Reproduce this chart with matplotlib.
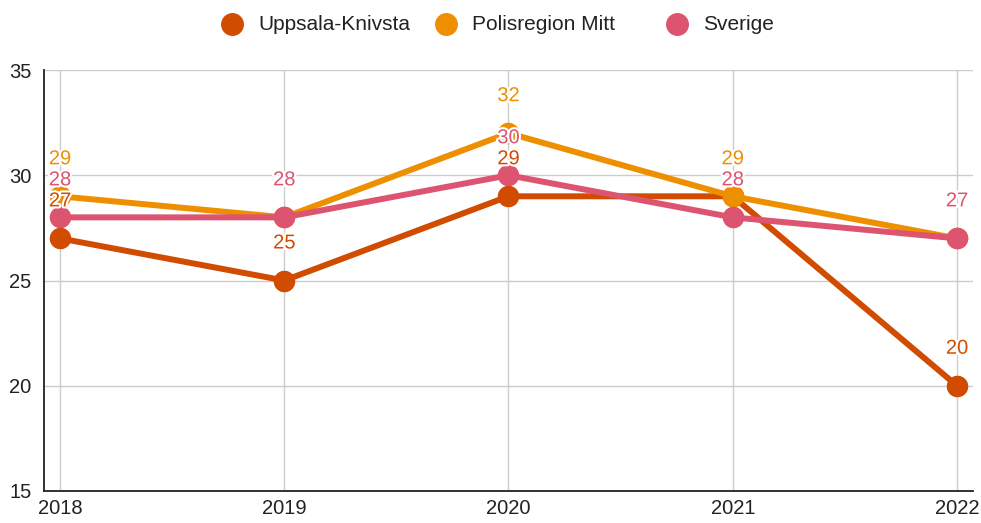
import matplotlib.pyplot as plt
import matplotlib.patheffects as pe
from matplotlib.lines import Line2D

plt.rcParams['font.family'] = ['Liberation Sans', 'DejaVu Sans']

years = [2018, 2019, 2020, 2021, 2022]
uppsala = [27, 25, 29, 29, 20]
polis = [29, 28, 32, 29, 27]
sverige = [28, 28, 30, 28, 27]

series = [
    ("Uppsala-Knivsta", uppsala, "#d14b00"),
    ("Polisregion Mitt", polis, "#ee8f00"),
    ("Sverige", sverige, "#dc546f"),
]

W, H = 981, 523
fig = plt.figure(figsize=(W / 100, H / 100), dpi=100)
ax = fig.add_axes([44 / W, 1 - 491 / H, (973 - 44) / W, (491 - 70) / H])

for i, (name, vals, col) in enumerate(series):
    ax.plot(years, vals, color=col, linewidth=4.3, marker='o', markersize=14.5,
            label=name, zorder=3 + i, solid_capstyle='round')
for i, (name, vals, col) in enumerate(series):
    for x, v in zip(years, vals):
        ax.annotate(str(v), (x, v), xytext=(0, 27), textcoords='offset points',
                    ha='center', va='center', fontsize=14.5, color=col, zorder=10 + i,
                    path_effects=[pe.withStroke(linewidth=3, foreground='white')])

ax.set_xlim(2018 - 16 / 224.25, 2022 + 16 / 224.25)
ax.set_ylim(15, 35)
ax.set_xticks(years)
ax.set_yticks([15, 20, 25, 30, 35])
ax.tick_params(length=0, labelsize=14.5, colors='#222222', pad=9)
ax.tick_params(axis='x', pad=6)
ax.grid(True, color='#cccccc', linewidth=1)
ax.set_axisbelow(True)
for s in ['top', 'right']:
    ax.spines[s].set_visible(False)
for s in ['left', 'bottom']:
    ax.spines[s].set_color('#222222')
    ax.spines[s].set_linewidth(1.3)

# legend drawn by hand so the entries sit where the original has them
leg_x = [232, 446, 677]
leg_y = 1 - 24 / H
for (name, vals, col), lx in zip(series, leg_x):
    fig.add_artist(Line2D([lx / W], [leg_y], marker='o', markersize=15.5, color=col,
                          linestyle='none', transform=fig.transFigure))
    fig.text((lx + 26) / W, leg_y, name, fontsize=15, color='#222222',
             ha='left', va='center')

fig.savefig('out.png', dpi=100)
